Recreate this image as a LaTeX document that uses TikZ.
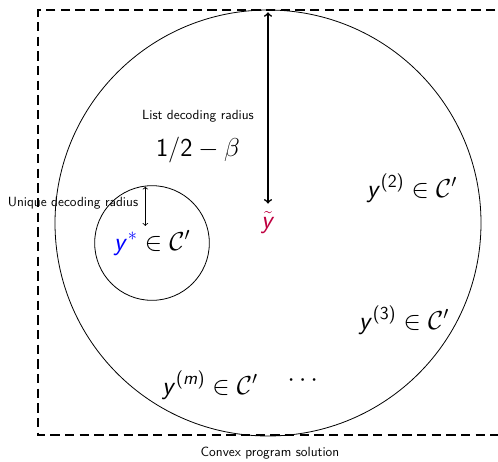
\RequirePackage{fix-cm}
\documentclass[tikz,border=0pt]{standalone}
\usepackage{amsmath}
\usepackage{tikz}
\usetikzlibrary{positioning,calc}
\definecolor{decpurple}{rgb}{0.75,0,0.25}
% sans serif math letters and digits
\DeclareSymbolFont{sfupright}{OT1}{cmss}{m}{n}
\DeclareSymbolFont{sfslanted}{OT1}{cmss}{m}{sl}
\DeclareMathSymbol{y}{\mathalpha}{sfslanted}{`y}
\DeclareMathSymbol{m}{\mathalpha}{sfslanted}{`m}
\DeclareMathSymbol{1}{\mathalpha}{sfupright}{`1}
\DeclareMathSymbol{2}{\mathalpha}{sfupright}{`2}
\DeclareMathSymbol{3}{\mathalpha}{sfupright}{`3}
\DeclareMathSymbol{(}{\mathopen}{sfupright}{`(}
\DeclareMathSymbol{)}{\mathclose}{sfupright}{`)}
\DeclareMathSymbol{/}{\mathord}{sfupright}{`/}

\begin{document}
\sffamily
\begin{tikzpicture}[x=0.75pt, y=-0.75pt, >=to]
  \tikzstyle{ball} = [circle, draw, line width=0.6pt, inner sep=0pt]
  \tikzstyle{word} = [font=\fontsize{19.5}{23}\selectfont]
  \tikzstyle{radius} = [<->, line width=1.2pt]

  \useasboundingbox (0,0) rectangle (498,461);
  \clip (0,0) rectangle (498,461);

  % convex program region
  \draw[line width=1.5pt, dash pattern=on 7pt off 4pt] (510,10) -| (38,435) -- (510,435);
  \node (convex) at (270,453) {Convex program solution};

  % list decoding ball
  \node[ball, minimum size=319.5pt] (big) at (268,223) {};
  \node[word, text=decpurple] (ytilde) at (268,222) {$\tilde{y}$};
  \node (listlabel) at (198,116) {List decoding radius};
  \node[font=\fontsize{19.4}{23}\selectfont] (listval) at (198,150) {$1/2-\beta$};
  \draw[radius] ([yshift=-2pt]big.north) -- ([yshift=2pt]ytilde.north);

  % unique decoding ball
  \node[ball, minimum size=86pt] (small) at (152,243) {};
  \node[word] (ystar) at (152,243) {$\textcolor{blue}{y^*}\in\mathcal{C}'$};
  \node (uniquelabel) at (73,203) {Unique decoding radius};
  \draw[<->, line width=0.6pt] ([xshift=-5pt,yshift=-1pt]small.north) -- ([xshift=-5pt]ystar.north);

  % other codewords
  \node[word] (y2) at (412,188) {$y^{(2)}\in\mathcal{C}'$};
  \node[word] (y3) at (404,320) {$y^{(3)}\in\mathcal{C}'$};
  \node[word] (ym) at (210,385) {$y^{(m)}\in\mathcal{C}'$};
  \node[word] (dots) at (305,381) {$\cdots$};
\end{tikzpicture}
\end{document}
